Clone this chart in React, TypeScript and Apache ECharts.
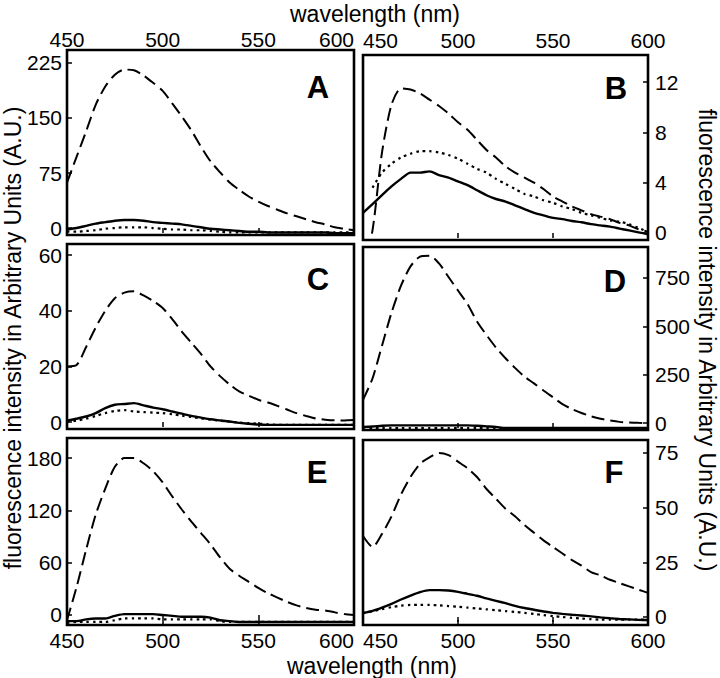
import React, { useEffect, useRef } from 'react';
import * as echarts from 'echarts';

// ---------- data ----------
const wavelengths = [450, 455, 460, 465, 470, 475, 480, 485, 490, 495, 500, 505, 510, 515, 520, 525, 530, 535, 540, 545, 550, 555, 560, 565, 570, 575, 580, 585, 590, 595, 600];
const xTicks = [450, 500, 550, 600];

const aDashed = [62, 97, 132, 168, 193, 209, 216, 215, 208, 198, 187, 170, 152, 133, 111, 91, 76, 62, 52, 43, 36, 30, 25, 20, 16, 12, 8, 5, 1, -1, -3];
const aSolid = [-2, 0, 3, 6, 8, 10, 11, 11, 10, 8, 7, 6, 5, 3, 1, -1, -2, -3, -4, -5, -5, -6, -6, -6, -6, -6, -6, -6, -7, -7, -7];
const aDotted = [-5, -5, -4, -3, -1, 0, 1, 1, 1, 0, -1, -2, -2, -3, -3, -4, -5, -6, -6, -6, -6, -6, -6, -6, -6, -6, -6, -6, -6, -6, -6];
const aTicks = [0, 75, 150, 225];

const bDashed = [-3, 0.2, 6.4, 10.2, 11.5, 11.4, 11.1, 10.6, 10.1, 9.5, 8.8, 8.2, 7.4, 6.6, 6.0, 5.3, 4.8, 4.4, 4.0, 3.5, 2.9, 2.5, 2.1, 1.8, 1.5, 1.3, 1.1, 0.8, 0.6, 0.3, 0.1];
const bSolid = [1.6, 2.3, 3.0, 3.7, 4.3, 4.8, 4.8, 4.9, 4.6, 4.4, 4.1, 3.8, 3.4, 3.0, 2.7, 2.5, 2.2, 1.9, 1.6, 1.4, 1.2, 1.1, 0.95, 0.85, 0.7, 0.6, 0.5, 0.35, 0.2, 0.05, -0.1];
const bDotted = [null, 3.6, 4.8, 5.5, 6.0, 6.3, 6.5, 6.5, 6.4, 6.2, 5.9, 5.5, 5.1, 4.8, 4.3, 3.9, 3.5, 3.1, 2.9, 2.6, 2.4, 2.1, 1.9, 1.6, 1.4, 1.2, 1.0, 0.9, 0.7, 0.4, 0.1];
const bTicks = [0, 4, 8, 12];

const cDashed = [20, 20.5, 27, 34, 40, 44.5, 46.5, 47, 45.5, 43.5, 41, 37, 32.5, 28.5, 24.5, 20, 16.5, 13.5, 11, 9.5, 8, 7, 5.8, 4.5, 3.2, 2.2, 1.3, 0.8, 0.6, 0.6, 0.7];
const cSolid = [0.5, 1.2, 2.0, 3.2, 5.0, 6.2, 6.5, 6.8, 6.0, 5.2, 4.6, 3.8, 3.0, 2.2, 1.6, 1.0, 0.6, 0.2, -0.3, -0.6, -0.9, -1, -1, -1, -1, -1, -1, -1, -1, -1, -1];
const cDotted = [0, 0.5, 1.2, 2.2, 3.2, 4.0, 4.3, 3.8, 3.6, 3.4, 3.2, 2.8, 2.3, 1.8, 1.3, 0.9, 0.5, 0.1, -0.2, -0.4, -0.6, -0.8, -1, -1, -1, -1, -1, -1, -1, -1, -1];
const cTicks = [0, 20, 40, 60];

const dDashed = [120, 230, 400, 570, 710, 810, 860, 865, 825, 755, 685, 615, 525, 455, 390, 335, 285, 240, 205, 168, 133, 98, 72, 52, 35, 22, 13, 6, 3, 1, 0];
const dSolid = [-20, -18, -14, -12, -12, -12, -12, -12, -12, -12, -12, -12, -14, -17, -20, -26, -26, -26, -26, -26, -26, -26, -26, -26, -26, -26, -26, -26, -26, -26, -26];
const dDotted = [-22, -26, -26, -26, -26, -26, -26, -26, -26, -26, -26, -26, -26, -26, -26, -28, -28, -28, -28, -28, -28, -28, -28, -28, -28, -28, -28, -28, -28, -28, -28];
const dTicks = [0, 250, 500, 750];

const eDashed = [-6, 32, 75, 115, 145, 170, 180, 180, 174, 165, 152, 136, 121, 107, 94, 81, 66, 53, 45, 38, 31, 25, 20, 15, 11, 8, 6, 5, 3, 1, 0];
const eSolid = [-7, -7, -5, -4, -4, -1, 1, 1, 1, 1, 0, -1, -2, -2, -2, -3, -6, -7, -8, -8, -8, -8, -8, -8, -8, -8, -8, -8, -8, -8, -8];
const eDotted = [-9, -8, -8, -8, -8, -6, -4, -4, -4, -4, -5, -5, -5, -5, -5, -5, -7, -8, -8, -8, -8, -8, -8, -8, -8, -8, -8, -8, -8, -8, -8];
const eTicks = [0, 60, 120, 180];

const fDashed = [37, 32, 38, 46, 56, 64, 70, 73, 75, 74, 71, 68, 64, 58.5, 54, 49.5, 46, 42, 38.5, 35, 32, 29, 26, 23.5, 20.5, 19, 17, 15.5, 14, 12.5, 11];
const fSolid = [1.8, 2.8, 4.3, 6, 8, 9.8, 11.4, 12.3, 12.3, 12.1, 11.5, 10.6, 9.7, 8.5, 7.4, 6.3, 5.1, 4.1, 3.3, 2.5, 1.9, 1.4, 1.0, 0.7, 0.3, -0.2, -0.6, -0.9, -1.1, -1.3, -1.4];
const fDotted = [1.8, 2.6, 3.6, 4.5, 5.2, 5.5, 5.5, 5.5, 5.3, 5.0, 4.7, 4.3, 3.9, 3.5, 3.1, 2.7, 2.3, 1.9, 1.4, 0.9, 0.4, 0, -0.4, -0.7, -1, -1.2, -1.2, -1.2, -1.2, -1.2, -1.2];
const fTicks = [0, 25, 50, 75];

const panelLetters = ['A', 'B', 'C', 'D', 'E', 'F'];
const xTitle = 'wavelength (nm)';
const yTitle = 'fluorescence intensity in Arbitrary Units (A.U.)';

// ---------- layout ----------
const FONT = '"Liberation Sans", Arial, Helvetica, sans-serif';

const panels = [
  { dashed: aDashed, solid: aSolid, dotted: aDotted, ticks: aTicks, min: -9.5, max: 242.7, grid: { left: 67, top: 50, width: 287, height: 185 }, side: 'left', letter: [318, 87] },
  { dashed: bDashed, solid: bSolid, dotted: bDotted, ticks: bTicks, min: -0.56, max: 14.15, grid: { left: 363, top: 55, width: 285, height: 185 }, side: 'right', letter: [616, 88] },
  { dashed: cDashed, solid: cSolid, dotted: cDotted, ticks: cTicks, min: -2.5, max: 64, grid: { left: 67, top: 244, width: 287, height: 185 }, side: 'left', letter: [318, 279] },
  { dashed: dDashed, solid: dSolid, dotted: dDotted, ticks: dTicks, min: -36, max: 910, grid: { left: 363, top: 247, width: 285, height: 183 }, side: 'right', letter: [615, 281] },
  { dashed: eDashed, solid: eSolid, dotted: eDotted, ticks: eTicks, min: -11.5, max: 203, grid: { left: 67, top: 438, width: 287, height: 187 }, side: 'left', letter: [317, 472] },
  { dashed: fDashed, solid: fSolid, dotted: fDotted, ticks: fTicks, min: -3.66, max: 80.9, grid: { left: 363, top: 440, width: 285, height: 185 }, side: 'right', letter: [614, 472] },
];

const tickStyle = { color: '#000', width: 1.5 };

function buildOption() {
  const grid = panels.map((p) => ({
    ...p.grid,
    show: true,
    borderColor: '#000',
    borderWidth: 2.6,
    backgroundColor: 'transparent',
  }));

  const xAxis: any[] = panels.map((p, i) => ({
    type: 'value',
    gridIndex: i,
    position: 'top',
    min: 450,
    max: 600,
    axisLine: { show: false },
    splitLine: { show: false },
    axisTick: { show: true, inside: true, length: 5, customValues: xTicks, lineStyle: tickStyle },
    axisLabel: {
      show: i < 2,
      customValues: xTicks,
      fontSize: 21,
      fontFamily: FONT,
      color: '#000',
      margin: i === 0 ? 0 : 4,
      alignMinLabel: p.side === 'left' ? 'center' : 'left',
      alignMaxLabel: p.side === 'left' ? 'right' : 'center',
    },
  }));
  [4, 5].forEach((i) => {
    const p = panels[i];
    xAxis.push({
      type: 'value',
      gridIndex: i,
      position: 'bottom',
      min: 450,
      max: 600,
      axisLine: { show: false },
      splitLine: { show: false },
      axisTick: { show: true, inside: true, length: 5, customValues: xTicks, lineStyle: tickStyle },
      axisLabel: {
        show: true,
        customValues: xTicks,
        fontSize: 21,
        fontFamily: FONT,
        color: '#000',
        margin: 5,
        alignMinLabel: p.side === 'left' ? 'center' : 'left',
        alignMaxLabel: p.side === 'left' ? 'right' : 'center',
      },
    });
  });

  const yAxis = panels.map((p, i) => ({
    type: 'value',
    gridIndex: i,
    position: p.side,
    min: p.min,
    max: p.max,
    axisLine: { show: false },
    splitLine: { show: false },
    axisTick: { show: true, inside: true, length: 5, customValues: p.ticks, lineStyle: tickStyle },
    axisLabel: {
      customValues: p.ticks,
      fontSize: 21,
      fontFamily: FONT,
      color: '#000',
      margin: p.side === 'left' ? 5 : 7,
    },
  }));

  const series: any[] = [];
  panels.forEach((p, i) => {
    const mk = (arr: (number | null)[], lineStyle: any) => ({
      type: 'line',
      xAxisIndex: i,
      yAxisIndex: i,
      data: wavelengths.map((w, k) => [w, arr[k]]),
      showSymbol: false,
      symbol: 'none',
      smooth: 0.25,
      clip: true,
      connectNulls: false,
      lineStyle: { color: '#000', ...lineStyle },
      z: 3,
    });
    series.push(mk(p.dashed, { width: 2, type: [13, 6] }));
    series.push(mk(p.solid, { width: 2.4, type: 'solid' }));
    series.push(mk(p.dotted, { width: 2.2, type: [2.5, 4] }));
  });

  const graphic: any[] = [
    {
      type: 'text', x: 375, y: 14,
      style: { text: xTitle, fontSize: 23, fontFamily: FONT, fill: '#000', align: 'center', verticalAlign: 'middle' },
    },
    {
      type: 'text', x: 372, y: 666,
      style: { text: xTitle, fontSize: 23, fontFamily: FONT, fill: '#000', align: 'center', verticalAlign: 'middle' },
    },
    {
      type: 'text', x: 13, y: 338, rotation: Math.PI / 2,
      style: { text: yTitle, fontSize: 23, fontFamily: FONT, fill: '#000', align: 'center', verticalAlign: 'middle' },
    },
    {
      type: 'text', x: 707, y: 340, rotation: -Math.PI / 2,
      style: { text: yTitle, fontSize: 23, fontFamily: FONT, fill: '#000', align: 'center', verticalAlign: 'middle' },
    },
  ];
  panels.forEach((p, i) => {
    graphic.push({
      type: 'text', x: p.letter[0], y: p.letter[1],
      style: { text: panelLetters[i], fontSize: 31, fontWeight: 'bold', fontFamily: FONT, fill: '#000', align: 'center', verticalAlign: 'middle' },
    });
  });

  return {
    animation: false,
    backgroundColor: '#fff',
    textStyle: { fontFamily: FONT },
    grid,
    xAxis,
    yAxis,
    series,
    graphic,
  };
}

export default function App() {
  const ref = useRef<HTMLDivElement>(null);
  useEffect(() => {
    if (!ref.current) return;
    const chart = echarts.init(ref.current, undefined, { renderer: 'svg' });
    chart.setOption(buildOption() as any);
    return () => chart.dispose();
  }, []);
  return (
    <div
      ref={ref}
      style={{ position: 'fixed', left: 0, top: 0, width: 720, height: 678, background: '#fff' }}
    />
  );
}
